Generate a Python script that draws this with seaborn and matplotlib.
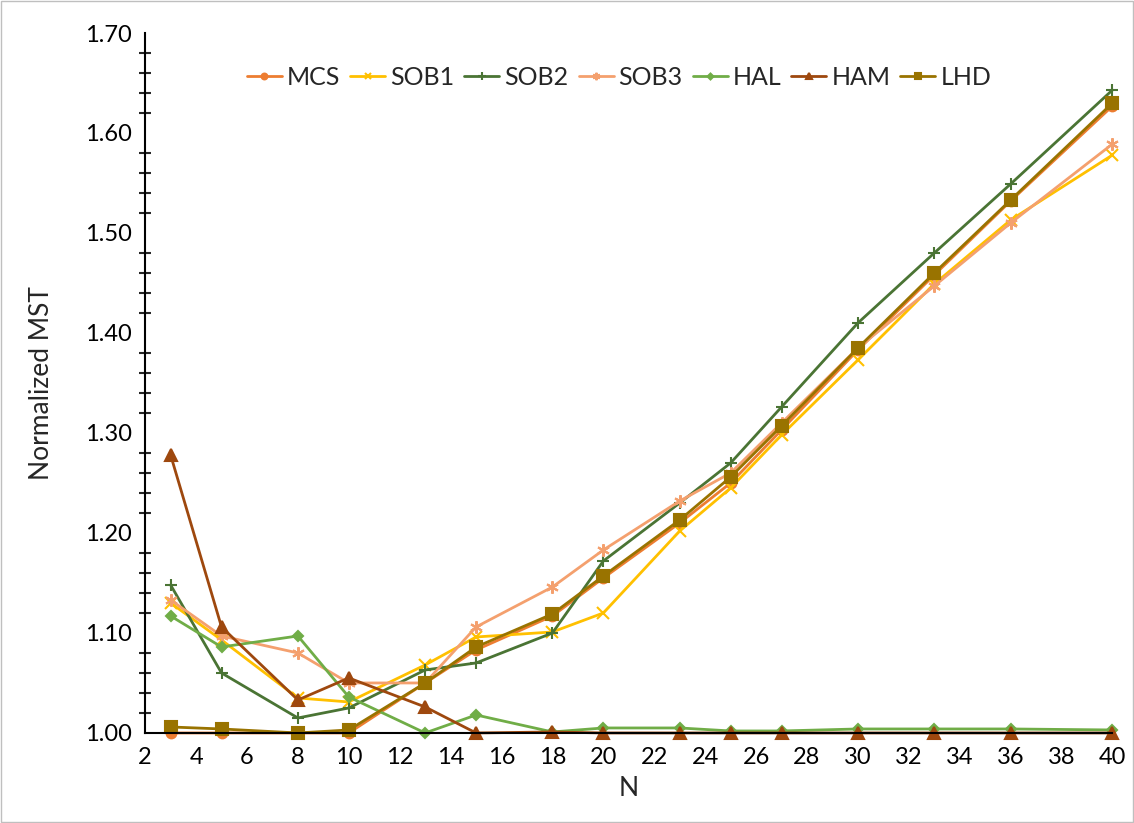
import matplotlib
matplotlib.use("Agg")
import matplotlib.pyplot as plt
import seaborn as sns
import pandas as pd
import numpy as np
from matplotlib.ticker import MultipleLocator, FormatStrFormatter
from matplotlib.patches import Rectangle

N = [3, 5, 8, 10, 13, 15, 18, 20, 23, 25, 27, 30, 33, 36, 40]
MCS = [1.000, 1.000, 1.000, 1.000, 1.050, 1.083, 1.117, 1.155, 1.210, 1.250, 1.303, 1.383, 1.458, 1.532, 1.627]
SOB1 = [1.130, 1.093, 1.035, 1.031, 1.068, 1.096, 1.101, 1.120, 1.202, 1.245, 1.298, 1.373, 1.449, 1.513, 1.578]
SOB2 = [1.148, 1.060, 1.015, 1.025, 1.063, 1.070, 1.100, 1.172, 1.230, 1.270, 1.326, 1.410, 1.480, 1.549, 1.643]
SOB3 = [1.133, 1.097, 1.080, 1.050, 1.050, 1.106, 1.146, 1.183, 1.232, 1.260, 1.310, 1.385, 1.447, 1.510, 1.589]
HAL = [1.117, 1.086, 1.097, 1.036, 1.000, 1.018, 1.001, 1.005, 1.005, 1.002, 1.002, 1.004, 1.004, 1.004, 1.003]
HAM = [1.278, 1.106, 1.033, 1.055, 1.026, 1.000, 1.001, 1.000, 1.000, 1.000, 1.000, 1.000, 1.000, 1.000, 1.000]
LHD = [1.006, 1.004, 1.000, 1.003, 1.050, 1.086, 1.119, 1.157, 1.213, 1.256, 1.307, 1.385, 1.460, 1.533, 1.630]

series = {"MCS": MCS, "SOB1": SOB1, "SOB2": SOB2, "SOB3": SOB3, "HAL": HAL, "HAM": HAM, "LHD": LHD}
colors = {"MCS": "#ED7D31", "SOB1": "#FFC000", "SOB2": "#4A7434", "SOB3": "#F4A06E",
          "HAL": "#70AD47", "HAM": "#9E480E", "LHD": "#997300"}
markers = {"MCS": "o", "SOB1": "x", "SOB2": "+", "SOB3": (6, 2, 0), "HAL": "D", "HAM": "^", "LHD": "s"}
msizes = {"MCS": 7, "SOB1": 8, "SOB2": 9, "SOB3": 9, "HAL": 5, "HAM": 8, "LHD": 8}

rows = []
for name, vals in series.items():
    for n, v in zip(N, vals):
        rows.append({"N": n, "value": v, "series": name})
df = pd.DataFrame(rows)

sns.set_theme(style="white")
plt.rcParams['font.family'] = ['Lato', 'DejaVu Sans']

fig = plt.figure(figsize=(11.34, 8.23), dpi=100)
ax = fig.add_axes([0.128, 0.1094, 0.853, 0.8505])

for name in series:
    sub = df[df["series"] == name]
    sns.lineplot(data=sub, x="N", y="value", ax=ax, color=colors[name], marker=markers[name],
                 markersize=msizes[name], markeredgewidth=1.5, markeredgecolor=colors[name],
                 linewidth=2.0, label=name, clip_on=False)

ax.set_xlim(2, 40)
ax.set_ylim(1.0, 1.7)
ax.xaxis.set_major_locator(MultipleLocator(2))
ax.yaxis.set_major_locator(MultipleLocator(0.1))
ax.yaxis.set_minor_locator(MultipleLocator(0.02))
ax.yaxis.set_major_formatter(FormatStrFormatter("%.2f"))
ax.tick_params(axis="both", which="major", direction="inout", length=12, width=1.5, labelsize=17, colors="black")
ax.tick_params(axis="y", which="minor", direction="inout", length=8, width=1.5, left=True)
ax.tick_params(axis="x", which="major", pad=4)
for s in ["top", "right"]:
    ax.spines[s].set_visible(False)
for s in ["left", "bottom"]:
    ax.spines[s].set_color("black")
    ax.spines[s].set_linewidth(1.5)
ax.set_xlabel("N", fontsize=19, labelpad=6)
ax.set_ylabel("Normalized MST", fontsize=19, labelpad=22)
ax.grid(False)

leg = ax.legend(loc="upper center", bbox_to_anchor=(0.49, 0.985), ncol=7, frameon=False,
                fontsize=18, handlelength=1.4, handletextpad=0.2, columnspacing=0.4, markerscale=0.6)

fig.patches.append(Rectangle((0.001, 0.001), 0.998, 0.998, transform=fig.transFigure,
                             fill=False, edgecolor="#BFBFBF", linewidth=1.0))

fig.savefig("out.png", dpi=100)
